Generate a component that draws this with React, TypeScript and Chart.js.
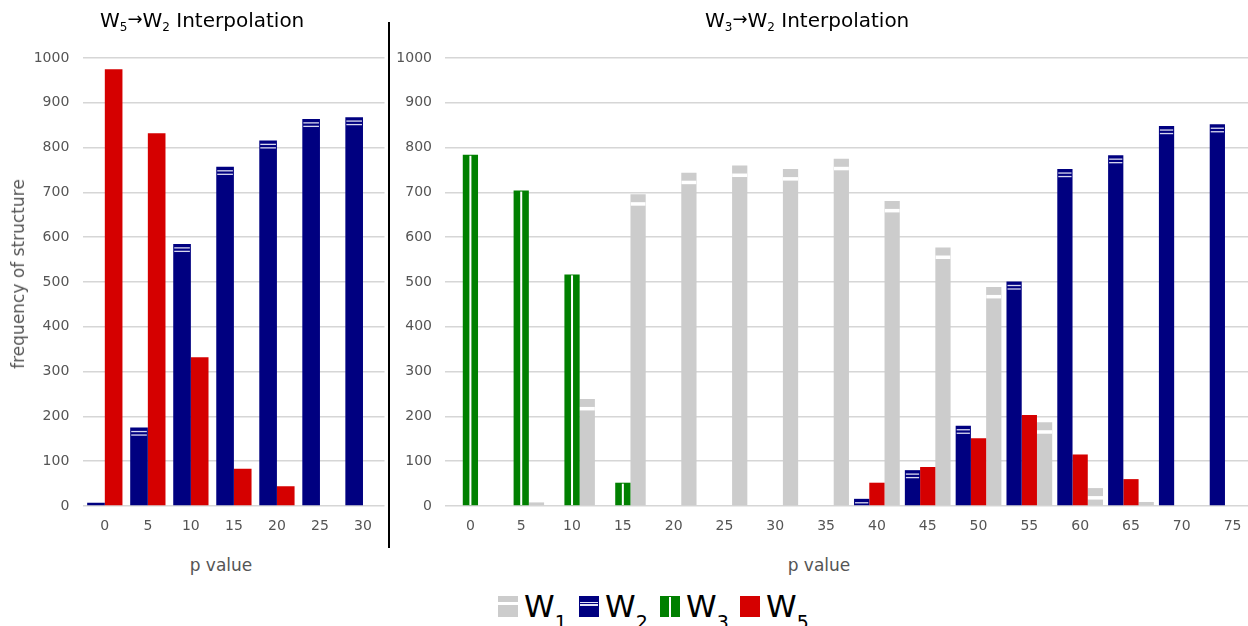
import React, { useEffect, useRef } from 'react';
import { Chart, registerables } from 'chart.js';

Chart.register(...registerables);

// ---------------- data ----------------
const leftCategories = ['0', '5', '10', '15', '20', '25', '30'];
const leftW2 = [7, 175, 585, 757, 816, 864, 868];
const leftW5 = [975, 832, 332, 83, 44, 0, 0];

const rightCategories = ['0', '5', '10', '15', '20', '25', '30', '35', '40', '45', '50', '55', '60', '65', '70', '75'];
const rightW1 = [0, 8, 239, 696, 744, 760, 752, 775, 681, 577, 489, 187, 40, 9, 0, 0];
const rightW2 = [0, 0, 0, 0, 0, 0, 0, 0, 16, 80, 179, 501, 752, 783, 848, 852];
const rightW3 = [784, 704, 517, 52, 0, 0, 0, 0, 0, 0, 0, 0, 0, 0, 0, 0];
const rightW5 = [0, 0, 0, 0, 0, 0, 0, 0, 52, 87, 151, 203, 115, 60, 0, 0];

const yMin = 0;
const yMax = 1000;
const yStep = 100;

const COLORS: Record<string, string> = {
  W1: '#cccccc',
  W2: '#000080',
  W3: '#008000',
  W5: '#d50000',
};

const FONT = "'DejaVu Sans', sans-serif";
const TICK_COLOR = '#555555';
const GRID_COLOR = '#d6d6d6';

Chart.defaults.font.family = FONT;

// ---------------- hatch plugin ----------------
const hatchPlugin = {
  id: 'hatchMarks',
  afterDatasetsDraw(chart: any) {
    const ctx = chart.ctx;
    const area = chart.chartArea;
    chart.data.datasets.forEach((ds: any, i: number) => {
      const meta = chart.getDatasetMeta(i);
      const kind = ds.hatchKind;
      meta.data.forEach((bar: any) => {
        const { x, y, base, width } = bar.getProps(['x', 'y', 'base', 'width'], true);
        const h = base - y;
        if (h < 1) return;
        const left = x - width / 2;
        ctx.save();
        ctx.beginPath();
        ctx.rect(left, Math.max(y, area.top - 2), width, h);
        ctx.clip();
        if (kind === 'W1') {
          ctx.fillStyle = '#ffffff';
          if (h > 10) ctx.fillRect(left, y + 8, width, 3.5);
        } else if (kind === 'W2') {
          ctx.fillStyle = 'rgba(228,228,245,0.95)';
          ctx.fillRect(left + 1, y + 3.3, width - 2, 1.3);
          ctx.fillRect(left + 1, y + 6.8, width - 2, 1.3);
        } else if (kind === 'W3') {
          ctx.fillStyle = '#ffffff';
          ctx.fillRect(x - 1, y + 1, 2, h - 1);
        }
        ctx.restore();
      });
    });
  },
};

function makeOptions(yWidth: number, padRight: number, tickPad: number, catPct: number) {
  return {
    responsive: false,
    animation: false as const,
    events: [],
    layout: { padding: { top: 58, right: padRight, bottom: 0, left: 0 } },
    datasets: { bar: { categoryPercentage: catPct, barPercentage: 1.0, borderWidth: 0 } },
    plugins: {
      legend: { display: false },
      tooltip: { enabled: false },
      title: { display: false },
    },
    scales: {
      x: {
        type: 'category' as const,
        stacked: true,
        grid: { display: false, drawTicks: false },
        border: { display: false },
        ticks: {
          color: TICK_COLOR,
          font: { size: 14, family: FONT },
          padding: 12,
          maxRotation: 0,
          autoSkip: false,
        },
        afterFit: (s: any) => {
          s.height = 34;
        },
      },
      y: {
        stacked: true,
        min: yMin,
        max: yMax,
        grid: { color: GRID_COLOR, lineWidth: 1.5, drawTicks: false },
        border: { display: false },
        ticks: {
          stepSize: yStep,
          color: TICK_COLOR,
          font: { size: 14, family: FONT },
          padding: tickPad,
          callback: (v: any) => String(v),
        },
        afterFit: (s: any) => {
          s.width = yWidth;
        },
      },
    },
  };
}

function BarPanel(props: { config: any; left: number; width: number; height: number }) {
  const ref = useRef<HTMLCanvasElement | null>(null);
  useEffect(() => {
    if (!ref.current) return;
    const chart = new Chart(ref.current, props.config);
    return () => chart.destroy();
  }, []);
  return (
    <canvas
      ref={ref}
      width={props.width}
      height={props.height}
      style={{ position: 'absolute', left: props.left, top: 0, width: props.width, height: props.height }}
    />
  );
}

const leftConfig = {
  type: 'bar',
  data: {
    labels: leftCategories,
    datasets: [
      { label: 'W2', data: leftW2, backgroundColor: COLORS.W2, stack: 'a', hatchKind: 'W2' },
      { label: 'W5', data: leftW5, backgroundColor: COLORS.W5, stack: 'b', hatchKind: 'W5' },
    ],
  },
  options: makeOptions(83.3, 5.5, 14, 0.82),
  plugins: [hatchPlugin],
};

const rightConfig = {
  type: 'bar',
  data: {
    labels: rightCategories,
    datasets: [
      { label: 'W2', data: rightW2, backgroundColor: COLORS.W2, stack: 'a', hatchKind: 'W2' },
      { label: 'W3', data: rightW3, backgroundColor: COLORS.W3, stack: 'b', hatchKind: 'W3' },
      { label: 'W5', data: rightW5, backgroundColor: COLORS.W5, stack: 'b', hatchKind: 'W5' },
      { label: 'W1', data: rightW1, backgroundColor: COLORS.W1, stack: 'c', hatchKind: 'W1' },
    ],
  },
  options: makeOptions(53, 4, 13, 0.9),
  plugins: [hatchPlugin],
};

function Title(props: { left: number; a: string; b: string }) {
  return (
    <div
      style={{
        position: 'absolute',
        left: props.left,
        top: 8.4,
        fontFamily: FONT,
        fontSize: 20,
        lineHeight: 'normal',
        color: '#000',
        whiteSpace: 'nowrap',
      }}
    >
      W<span style={{ fontSize: 12, position: 'relative', top: 4 }}>{props.a}</span>
      <span style={{ fontSize: 18, position: 'relative', top: -2 }}>→</span>W
      <span style={{ fontSize: 12, position: 'relative', top: 4 }}>{props.b}</span> Interpolation
    </div>
  );
}

function AxisLabel(props: { x: number; y: number; text: string; rotate?: boolean }) {
  return (
    <div
      style={{
        position: 'absolute',
        left: props.x,
        top: props.y,
        transform: props.rotate ? 'translate(-50%,-50%) rotate(-90deg)' : 'translate(-50%,-50%)',
        fontFamily: FONT,
        fontSize: 17,
        lineHeight: 'normal',
        color: TICK_COLOR,
        whiteSpace: 'nowrap',
      }}
    >
      {props.text}
    </div>
  );
}

const legendItems = [
  { kind: 'W1', sub: '1', x: 498 },
  { kind: 'W2', sub: '2', x: 579 },
  { kind: 'W3', sub: '3', x: 660 },
  { kind: 'W5', sub: '5', x: 740 },
];

function LegendBox(props: { kind: string; x: number }) {
  const k = props.kind;
  return (
    <div
      style={{
        position: 'absolute',
        left: props.x,
        top: 596,
        width: 20,
        height: 21,
        background: COLORS[k],
        overflow: 'hidden',
      }}
    >
      {k === 'W1' && <div style={{ position: 'absolute', left: 0, top: 6, width: 20, height: 2.5, background: '#fff' }} />}
      {k === 'W2' && (
        <>
          <div style={{ position: 'absolute', left: 1, top: 5.5, width: 18, height: 1.3, background: '#e4e4f5' }} />
          <div style={{ position: 'absolute', left: 1, top: 8.3, width: 18, height: 1.3, background: '#e4e4f5' }} />
        </>
      )}
      {k === 'W3' && <div style={{ position: 'absolute', left: 8.5, top: 1, width: 2, height: 20, background: '#fff' }} />}
    </div>
  );
}

export default function App() {
  useEffect(() => {
    document.body.style.margin = '0';
    document.body.style.overflow = 'hidden';
  }, []);
  return (
    <div
      style={{
        position: 'fixed',
        left: 0,
        top: 0,
        width: 1248,
        height: 626,
        overflow: 'hidden',
        background: '#fff',
      }}
    >
      <BarPanel config={leftConfig} left={0} width={390} height={540} />
      <BarPanel config={rightConfig} left={392} width={870} height={540} />

      <Title left={100} a="5" b="2" />
      <Title left={705} a="3" b="2" />

      <AxisLabel x={18} y={274} text="frequency of structure" rotate />
      <AxisLabel x={221} y={565} text="p value" />
      <AxisLabel x={819} y={565} text="p value" />

      <div style={{ position: 'absolute', left: 388, top: 22, width: 1.5, height: 526, background: '#000' }} />

      {legendItems.map((it) => (
        <React.Fragment key={it.kind}>
          <LegendBox kind={it.kind} x={it.x} />
          <div
            style={{
              position: 'absolute',
              left: it.x + 26,
              top: 588,
              fontFamily: FONT,
              fontSize: 31,
              lineHeight: 'normal',
              color: '#000',
              whiteSpace: 'nowrap',
            }}
          >
            W<span style={{ fontSize: 19, position: 'relative', top: 12 }}>{it.sub}</span>
          </div>
        </React.Fragment>
      ))}
    </div>
  );
}
